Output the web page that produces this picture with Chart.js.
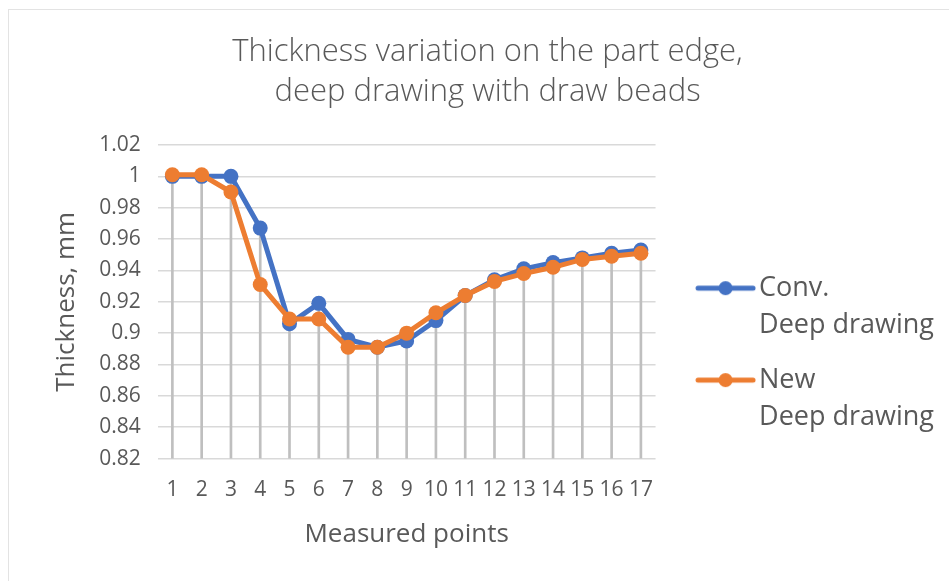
<!DOCTYPE html>
<html>
<head>
<meta charset="utf-8">
<script src="https://cdn.jsdelivr.net/npm/chart.js@4.4.0/dist/chart.umd.min.js"></script>
<style>
  html, body { margin: 0; padding: 0; background: #fff; }
  #wrap { position: relative; width: 949px; height: 581px; }
  #frame { position: absolute; left: 8px; top: 9px; right: 0; bottom: 0;
           border-left: 1px solid #e3e3e3; border-top: 1px solid #e3e3e3; }
  canvas { position: absolute; left: 0; top: 0; }
</style>
</head>
<body>
<div id="wrap">
  <div id="frame"></div>
  <canvas id="thicknessChart" width="949" height="581"></canvas>
</div>
<script>
// measured points along the part edge
const points = ['1', '2', '3', '4', '5', '6', '7', '8', '9', '10', '11', '12', '13', '14', '15', '16', '17'];

// thickness, mm
const convDeep = [1.000, 1.000, 1.000, 0.967, 0.906, 0.919, 0.896, 0.891, 0.895, 0.908, 0.924, 0.934, 0.941, 0.945, 0.948, 0.951, 0.953];
const newDeep  = [1.001, 1.001, 0.990, 0.931, 0.909, 0.909, 0.891, 0.891, 0.900, 0.913, 0.924, 0.933, 0.938, 0.942, 0.947, 0.949, 0.951];

const seriesNames = [['Conv.', 'Deep drawing'], ['New', 'Deep drawing']];
const yMin = 0.82, yMax = 1.02, yStep = 0.02;

// drop lines go from the higher point down to the axis
const dropLines = points.map((p, i) => Math.max(convDeep[i], newDeep[i]));

const blue = '#4472C4';
const orange = '#ED7D31';
const textGrey = '#595959';
const markerWidth = 72;

// line-with-dot legend symbol, right aligned inside a wider canvas
function legendMarker(color) {
    const c = document.createElement('canvas');
    c.width = markerWidth + 21; c.height = 16;
    const g = c.getContext('2d');
    g.strokeStyle = color;
    g.lineWidth = 5;
    g.lineCap = 'round';
    g.beginPath(); g.moveTo(35, 8); g.lineTo(90, 8); g.stroke();
    g.fillStyle = color;
    g.beginPath(); g.arc(62.5, 8, 7, 0, Math.PI * 2); g.fill();
    return c;
}

const ctx = document.getElementById('thicknessChart').getContext('2d');

const data = {
    labels: points,
    datasets: [{
        type: 'line',
        label: seriesNames[0],
        data: convDeep,
        borderColor: blue,
        backgroundColor: blue,
        borderWidth: 5,
        pointRadius: 7.5,
        pointHoverRadius: 7.5,
        pointBorderWidth: 0,
        order: 1
    }, {
        type: 'line',
        label: seriesNames[1],
        data: newDeep,
        borderColor: orange,
        backgroundColor: orange,
        borderWidth: 5,
        pointRadius: 7.5,
        pointHoverRadius: 7.5,
        pointBorderWidth: 0,
        order: 0
    }, {
        type: 'bar',
        label: 'drop',
        data: dropLines,
        backgroundColor: '#bfbfbf',
        barThickness: 2,
        order: 2
    }]
};

const config = {
    data: data,
    options: {
        responsive: false,
        animation: false,
        layout: { padding: { left: 31, right: 5, top: 32, bottom: 31 } },
        scales: {
            x: {
                offset: true,
                grid: { display: false, drawTicks: false },
                border: { display: false },
                ticks: { color: textGrey, font: { family: 'Open Sans', size: 21 }, padding: 19, maxRotation: 0, autoSkip: false },
                title: { display: true, text: 'Measured points', color: textGrey, font: { family: 'Open Sans', size: 26 }, padding: { top: -3, bottom: 0 } }
            },
            y: {
                min: yMin,
                max: yMax,
                ticks: {
                    stepSize: yStep,
                    color: textGrey,
                    font: { family: 'Open Sans', size: 21 },
                    padding: 17,
                    callback: v => String(Number(v.toFixed(2)))
                },
                grid: { color: '#d9d9d9', lineWidth: 1.5, drawTicks: false },
                border: { display: false },
                title: { display: true, text: 'Thickness, mm', color: textGrey, font: { family: 'Open Sans', size: 26 }, padding: { top: 20, bottom: 0 } }
            }
        },
        plugins: {
            title: {
                display: true,
                text: ['Thickness variation on the part edge,', 'deep drawing with draw beads'],
                color: textGrey,
                font: { family: 'Open Sans', size: 31, weight: 300, lineHeight: 1.29 },
                padding: { top: 0, bottom: 33 }
            },
            legend: {
                position: 'right',
                align: 'end',
                fullSize: false,
                maxWidth: 320,
                labels: {
                    usePointStyle: true,
                    pointStyleWidth: markerWidth,
                    color: textGrey,
                    font: { family: 'Open Sans', size: 27, lineHeight: 1.37 },
                    padding: 18,
                    generateLabels: chart => [0, 1].map(i => ({
                        text: seriesNames[i],
                        fontColor: textGrey,
                        pointStyle: legendMarker(i === 0 ? blue : orange),
                        datasetIndex: i,
                        lineWidth: 0,
                        hidden: false
                    }))
                }
            },
            tooltip: { enabled: false }
        }
    }
};

const thicknessChart = new Chart(ctx, config);
</script>
</body>
</html>
